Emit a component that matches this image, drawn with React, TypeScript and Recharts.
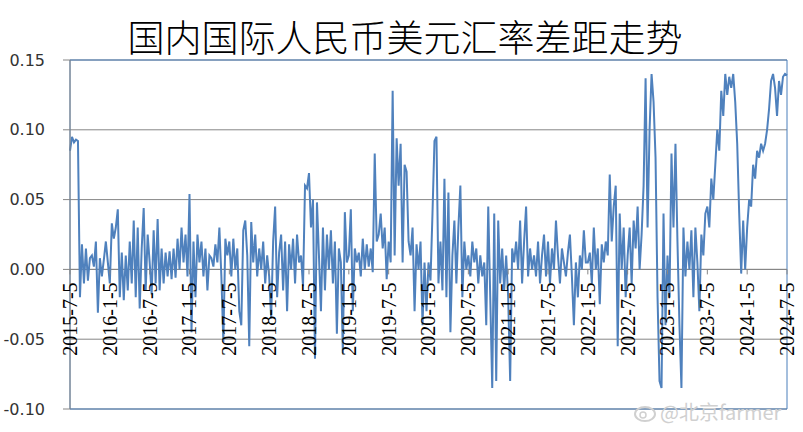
import React from 'react'
import { LineChart, Line, XAxis, YAxis, CartesianGrid, ReferenceLine, ReferenceArea } from 'recharts'

// half-year tick labels along the zero line
const TICK_LABELS = [
  '2015-7-5', '2016-1-5', '2016-7-5', '2017-1-5', '2017-7-5', '2018-1-5', '2018-7-5',
  '2019-1-5', '2019-7-5', '2020-1-5', '2020-7-5', '2021-1-5', '2021-7-5', '2022-1-5',
  '2022-7-5', '2023-1-5', '2023-7-5', '2024-1-5', '2024-7-5',
]

// spread between onshore and offshore CNY/USD, July to July
const Y2015 = [
  0.085, 0.095, 0.091, 0.093, 0.092, -0.02, 0.018, -0.01, 0.015, -0.008,
  0.008, 0.01, 0.002, 0.02, -0.031, 0.008, -0.005, 0.007, 0.02, 0.005,
  -0.01, 0.033, 0.022, 0.03, 0.043, -0.02, 0.012, -0.022, 0.01, -0.015,
  0.02, -0.01, 0.035, -0.02, 0.03, -0.028, 0.015, 0.044, -0.015, 0.025,
]
const Y2016 = [
  0.005, -0.018, 0.028, -0.01, 0.036, -0.015, 0.015, -0.01, 0.012, -0.005,
  0.013, -0.007, 0.015, -0.006, 0.022, 0.0, 0.03, 0.005, 0.025, -0.005,
  0.054, -0.045, 0.02, -0.02, 0.025, 0.005, 0.02, -0.005, 0.015, -0.015,
  0.01, 0.008, 0.002, 0.018, 0.005, 0.03, -0.005, -0.052, 0.022, 0.01,
]
const Y2017 = [
  0.02, -0.005, 0.022, 0.0, 0.015, -0.03, -0.04, 0.028, 0.035, 0.01,
  -0.055, 0.034, 0.005, 0.025, -0.005, 0.015, 0.0, 0.02, -0.01, 0.01,
  -0.005, -0.035, 0.02, 0.045, -0.02, 0.012, 0.025, -0.015, 0.02, -0.03,
  0.018, 0.0, 0.022, -0.01, 0.025, 0.005, 0.01, -0.012, 0.06, 0.058,
]
const Y2018 = [
  0.069, 0.03, 0.05, -0.064, 0.048, 0.01, -0.03, 0.03, -0.015, 0.025,
  0.0, 0.028, -0.01, 0.02, -0.046, 0.015, 0.005, -0.06, 0.041, 0.005,
  0.01, 0.043, -0.03, 0.015, 0.005, 0.012, -0.005, 0.022, 0.0, 0.018,
  0.002, 0.015, -0.002, 0.083, 0.02, 0.025, 0.04, 0.015, 0.03, -0.007,
]
const Y2019 = [
  0.02, 0.005, 0.128, 0.01, 0.094, 0.06, 0.09, 0.005, 0.075, 0.07,
  0.02, 0.01, 0.03, -0.03, 0.018, 0.0, 0.02, -0.04, 0.005, -0.03,
  0.005, -0.008, 0.04, 0.092, 0.095, -0.01, 0.02, -0.015, 0.065, -0.02,
  0.055, -0.045, 0.01, 0.035, -0.01, 0.03, 0.06, -0.02, 0.02, 0.0,
]
const Y2020 = [
  0.01, -0.005, 0.02, 0.005, 0.015, -0.01, 0.01, -0.005, 0.005, -0.04,
  0.045, -0.02, -0.085, 0.04, -0.08, 0.035, -0.01, 0.015, -0.015, 0.01,
  -0.02, -0.08, 0.015, 0.005, 0.02, 0.0, 0.035, -0.01, 0.02, 0.045,
  -0.005, 0.015, 0.0, 0.01, -0.005, 0.02, -0.01, 0.01, 0.025, -0.005,
]
const Y2021 = [
  0.02, -0.01, 0.015, 0.0, 0.035, 0.01, -0.01, 0.015, 0.005, -0.005,
  0.012, 0.025, -0.005, -0.04, 0.005, -0.02, 0.01, 0.0, 0.028, 0.005,
  0.005, 0.012, -0.01, 0.03, 0.0, 0.015, -0.025, 0.018, 0.005, 0.02,
  0.01, 0.068, 0.02, 0.045, 0.06, -0.055, 0.04, 0.0, 0.03, -0.02,
]
const Y2022 = [
  0.01, 0.03, -0.01, 0.035, 0.015, 0.045, 0.0, 0.025, 0.06, 0.137,
  0.03, 0.1, 0.14, 0.12, 0.08, -0.02, -0.08, -0.085, 0.04, -0.04,
  0.01, -0.02, 0.083, 0.03, 0.09, 0.02, -0.04, -0.085, 0.03, -0.005,
  0.02, 0.0, 0.028, -0.02, 0.03, 0.005, -0.03, 0.025, 0.01, 0.04,
]
const Y2023 = [
  0.045, 0.03, 0.065, 0.05, 0.075, 0.1, 0.085, 0.128, 0.11, 0.14,
  0.125, 0.138, 0.13, 0.14, 0.12, 0.09, 0.04, -0.003, 0.035, 0.0,
  0.03, 0.05, 0.045, 0.075, 0.065, 0.085, 0.08, 0.09, 0.085, 0.09,
  0.1, 0.115, 0.135, 0.14, 0.13, 0.11, 0.135, 0.125, 0.138, 0.14,
]
const LAST = [0.139]

const SPREAD = [...Y2015, ...Y2016, ...Y2017, ...Y2018, ...Y2019, ...Y2020, ...Y2021, ...Y2022, ...Y2023, ...LAST]
const data = SPREAD.map((v, i) => ({ i, v }))

const STEP = 20
const TICK_IDX = TICK_LABELS.map((_, k) => k * STEP)
const Y_TICKS = [-0.1, -0.05, 0, 0.05, 0.1, 0.15]

const W = 803
const H = 432
const TOP = 60
const BOTTOM = 3
const X_AXIS_H = 20
const PLOT_H = H - TOP - BOTTOM - X_AXIS_H
const ZERO_Y = TOP + PLOT_H * (0.15 / 0.25)

const XTick = (props: any) => {
  const { x, payload } = props
  const label = TICK_LABELS[Math.round(payload.value / STEP)]
  const ty = ZERO_Y + 13
  return (
    <g>
      <line x1={x} x2={x} y1={ZERO_Y} y2={ZERO_Y + 5} stroke="#868686" />
      <text
        x={x}
        y={ty}
        transform={`rotate(-90, ${x}, ${ty})`}
        textAnchor="end"
        dy="0.35em"
        fontSize={20}
        fontFamily="'Liberation Serif', 'Times New Roman', serif"
        fill="#000"
      >
        {label}
      </text>
    </g>
  )
}

export default function App() {
  return (
    <div style={{ position: 'absolute', left: 0, top: 0, width: W, height: H, background: '#fff' }}>
      <div
        style={{
          position: 'absolute', left: 0, top: 14, width: 810, textAlign: 'center',
          fontFamily: "'Noto Sans CJK SC', sans-serif", fontSize: 37, fontWeight: 300,
          lineHeight: '44px', color: '#000',
        }}
      >
        国内国际人民币美元汇率差距走势
      </div>
      <LineChart width={W} height={H} data={data} margin={{ top: TOP, right: 16, bottom: BOTTOM, left: 0 }}>
        <CartesianGrid horizontal vertical={false} stroke="#868686" />
        <XAxis
          dataKey="i"
          type="number"
          domain={[0, 360]}
          ticks={TICK_IDX}
          interval={0}
          height={X_AXIS_H}
          axisLine={false}
          tickLine={false}
          tick={XTick}
        />
        <YAxis
          domain={[-0.1, 0.15]}
          ticks={Y_TICKS}
          width={70}
          tickFormatter={(v: number) => v.toFixed(2)}
          tick={{ fontSize: 16, fill: '#333', fontFamily: "'DejaVu Sans', sans-serif" }}
          tickSize={7}
          tickMargin={18}
          axisLine={{ stroke: '#868686' }}
          tickLine={{ stroke: '#868686' }}
        />
        <ReferenceArea x1={0} x2={360} y1={-0.1} y2={0.15} fill="none" stroke="#4A7EBB" strokeWidth={1} />
        <ReferenceLine y={0} stroke="#868686" />
        <Line
          type="linear"
          dataKey="v"
          stroke="#4F81BD"
          strokeWidth={2}
          dot={false}
          isAnimationActive={false}
        />
      </LineChart>
      <svg style={{ position: 'absolute', left: 0, top: 0 }} width={W} height={H} pointerEvents="none">
        <ellipse cx={645} cy={414} rx={10} ry={7} fill="none" stroke="#d0d0d0" strokeWidth={2} />
        <circle cx={643} cy={415} r={3} fill="none" stroke="#d0d0d0" strokeWidth={1.5} />
        <text x={660} y={420} fontSize={20} fill="#d0d0d0" fontFamily="'Noto Sans CJK SC', sans-serif">
          @北京farmer
        </text>
      </svg>
    </div>
  )
}
